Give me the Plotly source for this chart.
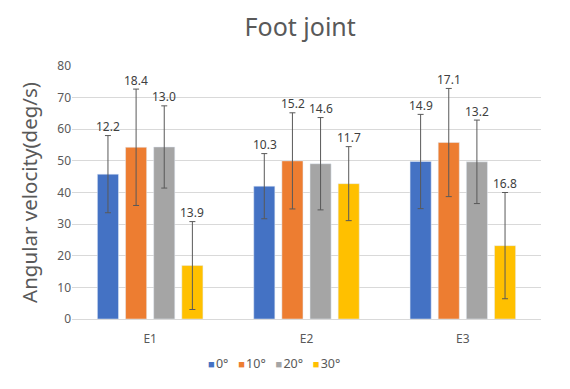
import plotly.graph_objects as go

categories = ["E1", "E2", "E3"]
series_names = ["0°", "10°", "20°", "30°"]
means_0 = [45.8, 42.0, 49.8]
means_10 = [54.3, 50.0, 55.8]
means_20 = [54.4, 49.1, 49.7]
means_30 = [16.9, 42.8, 23.2]
sd_0 = [12.2, 10.3, 14.9]
sd_10 = [18.4, 15.2, 17.1]
sd_20 = [13.0, 14.6, 13.2]
sd_30 = [13.9, 11.7, 16.8]

means = [means_0, means_10, means_20, means_30]
sds = [sd_0, sd_10, sd_20, sd_30]
colors = ["#4472C4", "#ED7D31", "#A5A5A5", "#FFC000"]
shifts = [-42, -14, 14, 42]

fig = go.Figure()
for name, m, s, c in zip(series_names, means, sds, colors):
    fig.add_trace(go.Bar(
        x=categories, y=m, name=name, marker_color=c, showlegend=False,
        error_y=dict(type="data", array=s, visible=True, color="#595959",
                     thickness=1, width=3),
    ))

annotations = []
for m, s, dx in zip(means, sds, shifts):
    for cat, mv, sv in zip(categories, m, s):
        annotations.append(dict(
            x=cat, y=mv + sv, xref="x", yref="y", text=f"{sv:.1f}",
            showarrow=False, xshift=dx, yshift=9,
            font=dict(family="Noto Sans", size=12, color="#404040"),
        ))

legend_text = "&nbsp;&nbsp;&nbsp;".join(
    f"<span style='color:{c}; font-size:11px'>■</span>&#8202;{n}" for n, c in zip(series_names, colors)
)
annotations.append(dict(
    x=0.43, y=-0.174, xref="paper", yref="paper", xanchor="center", yanchor="middle",
    text=legend_text, showarrow=False,
    font=dict(family="Noto Sans", size=12.5, color="#595959"),
))

fig.update_layout(
    width=562, height=381,
    margin=dict(l=64, r=29, t=58, b=70),
    paper_bgcolor="white", plot_bgcolor="white",
    barmode="group", bargap=0.28, bargroupgap=0.25,
    title=dict(text="Foot joint", x=0.52, xanchor="center", y=0.95, yanchor="middle",
               font=dict(family="Noto Sans", size=25, color="#595959")),
    font=dict(family="Noto Sans", color="#595959"),
    showlegend=False,
    annotations=annotations,
)
fig.update_yaxes(range=[0, 80], dtick=10, showgrid=True, gridcolor="#D9D9D9",
                 gridwidth=1, zeroline=False, showline=False, automargin=False,
                 tickfont=dict(size=12, color="#595959"),
                 title=dict(text="Angular velocity(deg/s)", standoff=14,
                            font=dict(size=20.5, color="#595959")))
fig.update_xaxes(showline=True, linecolor="#D9D9D9", ticks="", automargin=False,
                 ticklabelstandoff=9,
                 tickfont=dict(size=12, color="#595959"))

fig.write_html("out.html")
